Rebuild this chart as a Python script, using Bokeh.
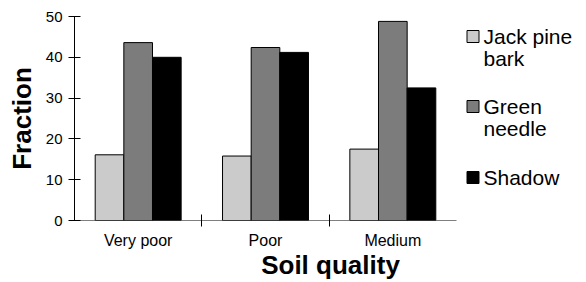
from bokeh.plotting import figure
from bokeh.models import ColumnDataSource, FixedTicker, Range1d
from bokeh.core.properties import value
from bokeh.transform import dodge
from bokeh.embed import file_html
from bokeh.resources import INLINE

categories = ["Very poor", "Poor", "Medium"]
series = ["Jack pine bark", "Green needle", "Shadow"]
legend_lines = [["Jack pine", "bark"], ["Green", "needle"], ["Shadow"]]
jack_pine_bark = [16.1, 15.8, 17.5]
green_needle = [43.6, 42.4, 48.8]
shadow = [40.0, 41.2, 32.5]
y_ticks = [0, 10, 20, 30, 40, 50]

FONT = "Liberation Sans"
colors = ["#cbcbcb", "#7c7c7c", "#000000"]

W, H = 586, 282
FL, FT, FB = 74, 16, 220          # frame left / top / bottom (px)
CAT_RIGHT = 456                    # px where the last category ends
n = len(categories)
x_end = n * (W - FL) / (CAT_RIGHT - FL)

xc = [i + 0.5 for i in range(n)]
src = ColumnDataSource(dict(x=xc, jack=jack_pine_bark, green=green_needle, shadow=shadow))

p = figure(width=W, height=H, output_backend="svg", toolbar_location=None,
           x_range=Range1d(0, x_end), y_range=Range1d(0, max(y_ticks)),
           min_border_left=FL, min_border_top=FT, min_border_bottom=H - FB, min_border_right=0)
p.outline_line_color = None
p.grid.visible = False
p.background_fill_color = "white"

bw = 0.225
renderers = []
for off, col, c in zip([-bw, 0, bw], ["jack", "green", "shadow"], colors):
    r = p.vbar(x=dodge("x", off, range=p.x_range), top=col, width=bw, bottom=0, source=src,
               fill_color=c, line_color="black", line_width=1)
    renderers.append(r)

# x baseline only across the categories
p.segment(x0=[0], y0=[0], x1=[n], y1=[0], line_color="black", line_width=1)

# y axis
ya = p.yaxis[0]
ya.ticker = FixedTicker(ticks=y_ticks)
ya.major_tick_in = 6
ya.major_tick_out = 6
ya.minor_tick_line_color = None
ya.axis_line_color = "black"
ya.major_label_text_font = FONT
ya.major_label_text_font_size = "15px"
ya.major_label_text_color = "black"
ya.major_label_standoff = 6
ya.axis_label = "Fraction"
ya.axis_label_text_font = FONT
ya.axis_label_text_font_size = "26px"
ya.axis_label_text_font_style = "bold"
ya.axis_label_text_color = "black"
ya.axis_label_standoff = 6

# x axis: labels at centres, ticks at category boundaries
xa = p.xaxis[0]
xa.ticker = FixedTicker(ticks=xc, minor_ticks=list(range(1, n)))
xa.major_label_overrides = {x: c for x, c in zip(xc, categories)}
xa.axis_line_color = None
xa.major_tick_line_color = None
xa.minor_tick_in = 6
xa.minor_tick_out = 6
xa.minor_tick_line_color = "black"
xa.major_label_text_font = FONT
xa.major_label_text_font_size = "16px"
xa.major_label_text_color = "black"
xa.major_label_standoff = 5
xa.axis_label = "Soil quality"
xa.axis_label_text_font = FONT
xa.axis_label_text_font_size = "26px"
xa.axis_label_text_font_style = "bold"
xa.axis_label_text_color = "black"
xa.axis_label_standoff = -2

# legend drawn to the right of the bars
sx = (CAT_RIGHT - FL) / n
sy = (FB - FT) / max(y_ticks)
def dx(px):
    return (px - FL) / sx
def dy(py):
    return (FB - py) / sy

square_x = 472.5
first_line_px = [36, 106, 177]
line_gap = 22
text_px = 483
p.rect(x=[dx(square_x)] * 3, y=[dy(v) for v in first_line_px], width=12, height=12,
       width_units="screen", height_units="screen", fill_color=colors, line_color="black",
       line_width=1)
tx, ty, tt = [], [], []
for lines, top in zip(legend_lines, first_line_px):
    for k, t in enumerate(lines):
        tx.append(dx(text_px)); ty.append(dy(top + k * line_gap)); tt.append(t)
p.text(x=tx, y=ty, text=tt, text_font=value(FONT), text_font_size="21px",
       text_color="black", text_baseline="middle", text_align="left")

open("out.html", "w").write(file_html(p, INLINE))
